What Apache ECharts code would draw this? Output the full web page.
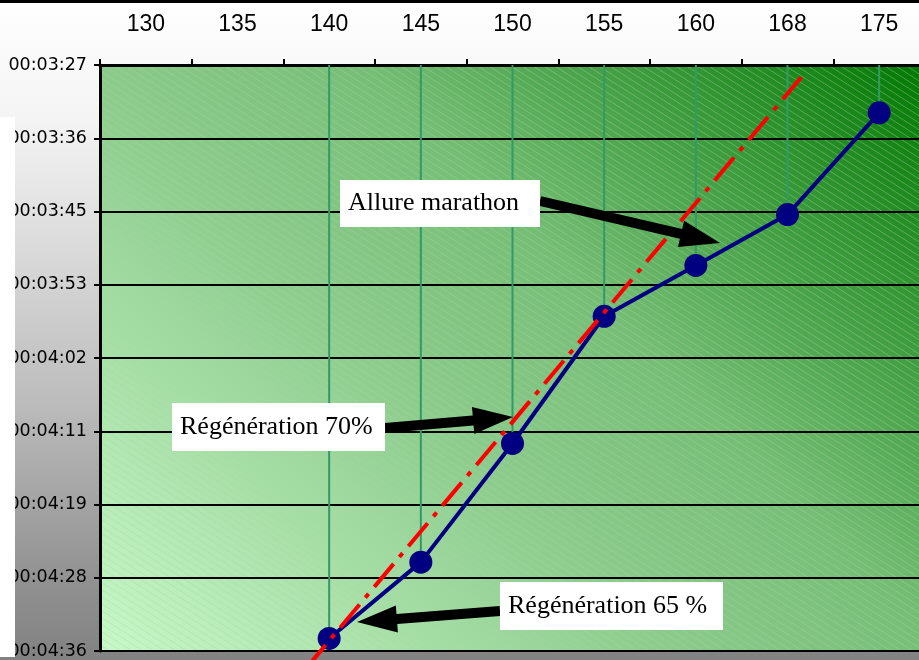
<!DOCTYPE html>
<html>
<head>
<meta charset="utf-8">
<script src="https://cdn.jsdelivr.net/npm/echarts@6/dist/echarts.min.js"></script>
<style>
  html, body { margin: 0; padding: 0; background: #fff; }
  #chart { width: 919px; height: 660px; }
</style>
</head>
<body>
<div id="chart"></div>
<script>
// Heart rate (bpm) along the top axis
const heartRates = ['130', '135', '140', '145', '150', '155', '160', '168', '175'];
// Pace per km, in seconds, at each heart rate (null = no measure)
const paceSeconds = [null, null, 275, 266, 252, 237, 231, 225, 213];
// Red reference line: positions along the heart-rate axis and pace (s) at both ends
const refLineX = [1.75, 7.15];
const refLinePace = [278.5, 208.8];
// Pace axis in units of 1/10000 day (Excel time), one unit = 8.64 s
const SEC_PER_UNIT = 8.64;
const paceAxisRange = [24, 32];

const annotations = [
  { text: 'Allure marathon',    box: [340, 180, 200, 47], from: [540, 201], to: [720, 243] },
  { text: 'Régénération 70%',   box: [172, 403, 213, 48], from: [385, 428], to: [513, 417] },
  { text: 'Régénération 65 %',  box: [500, 582, 223, 48], from: [500, 611], to: [357, 622] }
];

const GRID = { left: 100, top: 65, right: -6, bottom: 9 };
const W = 919, H = 660;

function fmtPace(v) {
  const s = Math.round(v * SEC_PER_UNIT);
  const m = Math.floor(s / 60), r = s % 60;
  return '00:' + String(m).padStart(2, '0') + ':' + String(r).padStart(2, '0');
}

function arrowPoints(from, to, shaft, headLen, headW) {
  const dx = to[0] - from[0], dy = to[1] - from[1];
  const len = Math.hypot(dx, dy);
  const ux = dx / len, uy = dy / len, nx = -uy, ny = ux;
  const bx = to[0] - ux * headLen, by = to[1] - uy * headLen;
  const s = shaft / 2, h = headW / 2;
  return [
    [from[0] + nx * s, from[1] + ny * s],
    [bx + nx * s, by + ny * s],
    [bx + nx * h, by + ny * h],
    to,
    [bx - nx * h, by - ny * h],
    [bx - nx * s, by - ny * s],
    [from[0] - nx * s, from[1] - ny * s]
  ];
}

function hatchTile() {
  const c = document.createElement('canvas');
  c.width = 11; c.height = 7;
  const g = c.getContext('2d');
  g.strokeStyle = 'rgba(170,210,170,0.4)';
  g.lineWidth = 1;
  g.beginPath();
  for (const ox of [-11, 0, 11]) {
    g.moveTo(ox - 11, -7);
    g.lineTo(ox + 22, 14);
  }
  g.stroke();
  return c;
}

const plotW = W - GRID.left - GRID.right;
const plotH = H - GRID.top - GRID.bottom;
// diagonal (45°) gradient running from the bottom-left to the top-right corner of the plot
const diag = (plotW + plotH) / 2;
const x0 = GRID.left, y0 = GRID.top + plotH;

const graphics = [
  // chart area background
  {
    type: 'rect', z: -30, silent: true,
    shape: { x: 0, y: 0, width: W, height: H },
    style: {
      fill: new echarts.graphic.LinearGradient(0, 0, 0, 1, [
        { offset: 0, color: '#ffffff' },
        { offset: 0.18, color: '#f4f4f4' },
        { offset: 0.6, color: '#bdbdbd' },
        { offset: 0.9, color: '#8e8e8e' },
        { offset: 1, color: '#828282' }
      ])
    }
  },
  { type: 'rect', z: -29, silent: true, shape: { x: 0, y: 0, width: W, height: 3 }, style: { fill: '#000' } },
  // plot area fill
  {
    type: 'rect', z: -20, silent: true,
    shape: { x: GRID.left, y: GRID.top, width: plotW, height: plotH },
    style: {
      fill: new echarts.graphic.LinearGradient(x0, y0, x0 + diag, y0 - diag, [
        { offset: 0, color: '#c8f8c8' },
        { offset: 0.42, color: '#8aca8a' },
        { offset: 0.6, color: '#76be76' },
        { offset: 1, color: '#007800' }
      ], true)
    }
  },
  {
    type: 'rect', z: -19, silent: true,
    shape: { x: GRID.left, y: GRID.top, width: plotW, height: plotH },
    style: { fill: { image: hatchTile(), repeat: 'repeat' } }
  },
  // white panel on the left edge
  { type: 'rect', z: 100, silent: true, shape: { x: 0, y: 117, width: 15, height: 540 }, style: { fill: '#fff' } }
];

annotations.forEach(a => {
  graphics.push({
    type: 'polygon', z: 50, silent: true,
    shape: { points: arrowPoints(a.from, a.to, 10, 40, 27) },
    style: { fill: '#000' }
  });
  graphics.push({
    type: 'rect', z: 51, silent: true,
    shape: { x: a.box[0], y: a.box[1], width: a.box[2], height: a.box[3] },
    style: { fill: '#fff' }
  });
  graphics.push({
    type: 'text', z: 52, silent: true,
    x: a.box[0] + 8, y: a.box[1] + a.box[3] / 2,
    style: {
      text: a.text, fill: '#000',
      font: '26px "Liberation Serif", "Times New Roman", serif',
      verticalAlign: 'middle', align: 'left'
    }
  });
});

const paceUnits = paceSeconds.map(v => (v == null ? null : v / SEC_PER_UNIT));
const dropData = [];
paceUnits.forEach((v, i) => { if (v != null) dropData.push([i, v]); });

const option = {
  animation: false,
  graphic: { elements: graphics },
  grid: { left: GRID.left, top: GRID.top, right: GRID.right, bottom: GRID.bottom, containLabel: false, outerBoundsMode: 'none' },
  xAxis: [
    {
      type: 'category', position: 'top', data: heartRates, boundaryGap: true,
      axisLine: { show: true, onZero: false, lineStyle: { color: '#000', width: 3 } },
      axisTick: { show: true, length: 6, lineStyle: { color: '#000', width: 2 } },
      axisLabel: { interval: 0, margin: 29, color: '#000', fontSize: 23, fontFamily: '"Liberation Sans", Arial, sans-serif' },
      splitLine: { show: false }
    },
    { type: 'value', min: -0.5, max: 8.5, show: false }
  ],
  yAxis: {
    type: 'value', inverse: true,
    min: paceAxisRange[0], max: paceAxisRange[1], interval: 1,
    axisLine: { show: true, onZero: false, lineStyle: { color: '#000', width: 3 } },
    axisTick: { show: true, length: 6, lineStyle: { color: '#000', width: 2 } },
    axisLabel: { margin: 13, color: '#000', fontSize: 17.5, fontFamily: '"DejaVu Sans", Verdana, sans-serif', formatter: fmtPace },
    splitLine: { show: true, lineStyle: { color: '#000', width: 2 } }
  },
  series: [
    {
      type: 'custom', z: 2, xAxisIndex: 0, yAxisIndex: 0,
      data: dropData, encode: { x: 0, y: 1 }, silent: true,
      renderItem: (params, api) => {
        const p = api.coord([api.value(0), api.value(1)]);
        const t = api.coord([api.value(0), paceAxisRange[0]]);
        return { type: 'line', shape: { x1: p[0], y1: t[1], x2: p[0], y2: p[1] }, style: { stroke: '#339966', lineWidth: 2 } };
      }
    },
    {
      type: 'line', z: 3, xAxisIndex: 0, yAxisIndex: 0,
      data: paceUnits, symbol: 'circle', symbolSize: 23,
      lineStyle: { color: '#000080', width: 4 },
      itemStyle: { color: '#000080' }
    },
    {
      type: 'line', z: 4, xAxisIndex: 1, yAxisIndex: 0, clip: false,
      data: refLineX.map((x, i) => [x, refLinePace[i] / SEC_PER_UNIT]),
      symbol: 'none',
      lineStyle: { color: '#ff0000', width: 4, type: [30, 9, 5, 9], cap: 'butt' }
    }
  ]
};

const chart = echarts.init(document.getElementById('chart'));
chart.setOption(option);
</script>
</body>
</html>
